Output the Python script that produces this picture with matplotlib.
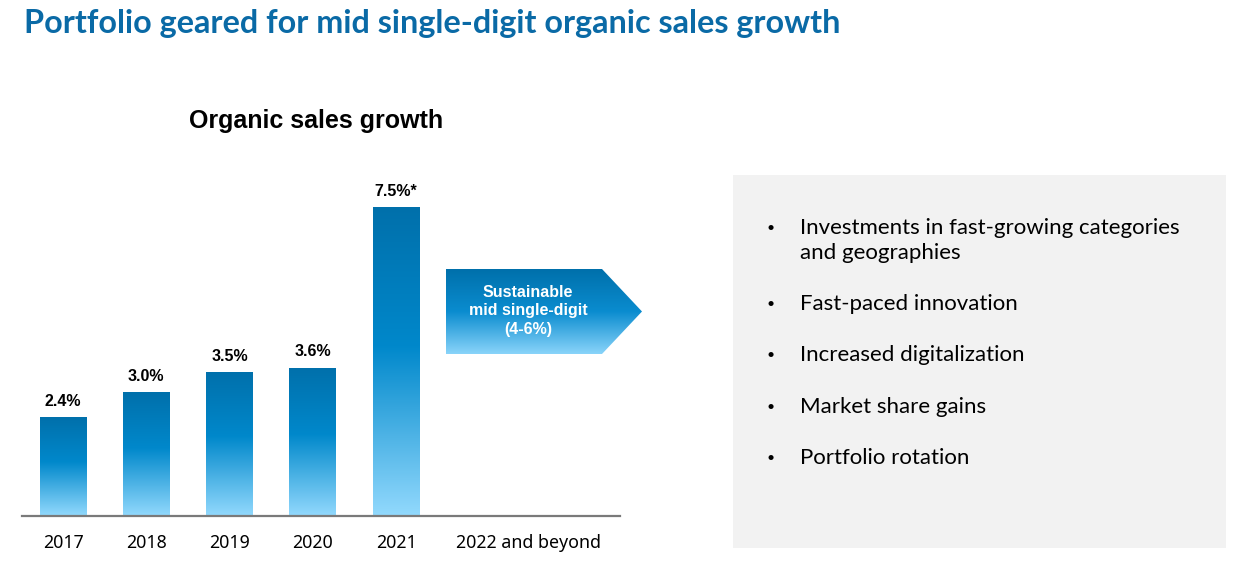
import numpy as np
import matplotlib.pyplot as plt
from matplotlib.colors import LinearSegmentedColormap
from matplotlib.patches import Polygon, Rectangle

# Datos
years = ['2017', '2018', '2019', '2020', '2021']
growth = [2.4, 3.0, 3.5, 3.6, 7.5]
value_labels = ['2.4%', '3.0%', '3.5%', '3.6%', '7.5%*']
future_label = '2022 and beyond'
arrow_text = 'Sustainable\nmid single-digit\n(4-6%)'
bullets = ['Investments in fast-growing categories\nand geographies',
           'Fast-paced innovation',
           'Increased digitalization',
           'Market share gains',
           'Portfolio rotation']

W, H = 1242, 588
fig = plt.figure(figsize=(W / 100, H / 100), dpi=100)
fig.patch.set_facecolor('white')

def fx(px):
    return px / W

def fy(py):
    return 1 - py / H

bar_cmap = LinearSegmentedColormap.from_list(
    'bar', [(0.0, '#0070ab'), (0.45, '#0088cb'), (1.0, '#92d9fd')])
grad = np.linspace(0, 1, 256).reshape(-1, 1)

# Títulos
fig.text(fx(24), fy(23), 'Portfolio geared for mid single-digit organic sales growth',
         fontsize=23.3, fontweight='bold', color='#0a6aa6', family='Lato',
         ha='left', va='center')
fig.text(fx(316), fy(121), 'Organic sales growth', fontsize=18, fontweight='bold',
         color='black', family='Liberation Sans', ha='center', va='center')

# Eje de barras
slot = 83.3
x0_px = 63
left_px, right_px = 22, 620
xmin = (left_px - x0_px) / slot
xmax = (right_px - x0_px) / slot
ymax = 8.5
ax_h = ymax * 41.2
ax = fig.add_axes([fx(left_px), fy(516), fx(right_px - left_px), ax_h / H])
for s in ['top', 'right', 'left']:
    ax.spines[s].set_visible(False)
ax.spines['bottom'].set_color('#7a7a7a')
ax.spines['bottom'].set_linewidth(1.6)
ax.set_yticks([])

xs = np.arange(len(years))
bw = 47 / slot
bars = ax.bar(xs, growth, width=bw, color='none', edgecolor='none')
for b, lab in zip(bars, value_labels):
    x, y = b.get_x(), b.get_height()
    im = ax.imshow(grad, cmap=bar_cmap, aspect='auto',
                   extent=[x, x + bw, 0, y], zorder=2)
    im.set_clip_path(b)
    ax.text(x + bw / 2, y + 0.2, lab, ha='center', va='bottom',
            fontsize=11.5, fontweight='bold', family='Liberation Sans')
ax.set_xlim(xmin, xmax)
ax.set_ylim(0, ymax)

future_x = (528 - x0_px) / slot
ax.set_xticks(list(xs) + [future_x])
ax.set_xticklabels(years + [future_label], fontsize=12.8, family='Noto Sans')
ax.tick_params(axis='x', length=0, pad=13)

# Flecha
ar = fig.add_axes([0, 0, 1, 1], facecolor='none')
ar.set_xlim(0, W)
ar.set_ylim(H, 0)
ar.axis('off')
pts = [(446, 269), (602, 269), (642, 311.5), (602, 354), (446, 354)]
poly = Polygon(pts, closed=True, facecolor='none', edgecolor='none')
ar.add_patch(poly)
arrow_cmap = LinearSegmentedColormap.from_list(
    'arr', [(0.0, '#0070ab'), (0.5, '#0a8ccf'), (1.0, '#8ad4fa')])
im = ar.imshow(grad, cmap=arrow_cmap, aspect='auto',
               extent=[446, 642, 354, 269], zorder=2)
im.set_clip_path(poly)
ar.text(528, 311, arrow_text, ha='center', va='center', color='white',
        fontsize=11.5, fontweight='bold', family='Liberation Sans',
        linespacing=1.3, zorder=3)

# Caja gris
ar.add_patch(Rectangle((733, 175), 493, 373, facecolor='#f2f2f2',
                       edgecolor='none', zorder=1))
bullet_y = [228, 304, 355, 407, 458]
for yy, txt in zip(bullet_y, bullets):
    ar.text(767, yy, '•', ha='left', va='center', fontsize=10, family='Lato', zorder=3)
    for k, line in enumerate(txt.split('\n')):
        ar.text(800, yy + 25 * k, line, ha='left', va='center',
                fontsize=16, family='Lato', zorder=3)

fig.savefig('out.png', dpi=100)
